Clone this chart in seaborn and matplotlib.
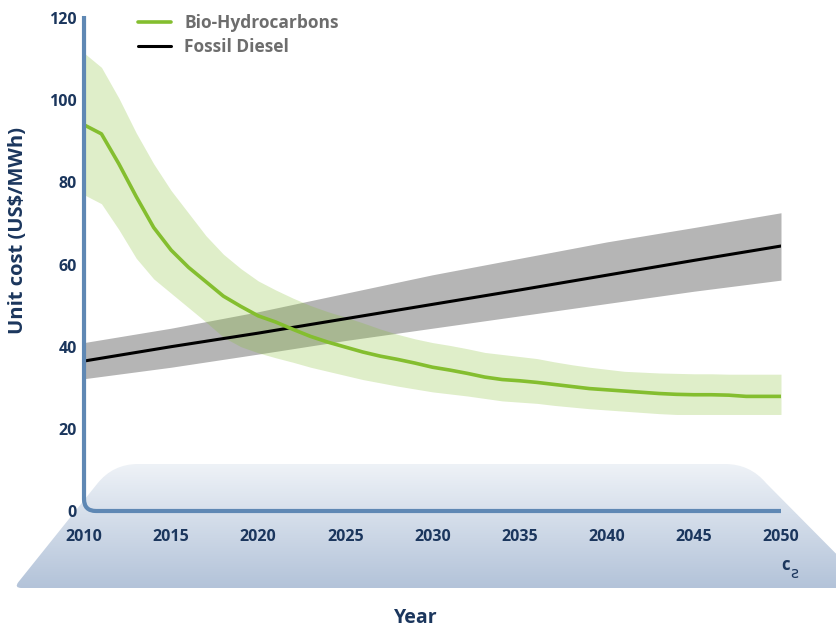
import numpy as np
import pandas as pd
import matplotlib
matplotlib.use("Agg")
import matplotlib.pyplot as plt
import seaborn as sns
from matplotlib.path import Path
from matplotlib.patches import PathPatch
from matplotlib.colors import LinearSegmentedColormap

# Data
bio_years = list(range(2010, 2051))
bio_mid = [94.0, 91.8, 84.5, 76.5, 69.0, 63.5, 59.3, 55.8, 52.3, 49.8,
           47.5, 46.0, 44.2, 42.5, 41.1, 39.9, 38.7, 37.7, 36.9, 36.0,
           35.0, 34.3, 33.5, 32.6, 32.0, 31.7, 31.3, 30.8, 30.3, 29.8,
           29.5, 29.2, 28.9, 28.6, 28.4, 28.3, 28.3, 28.2, 27.9, 27.9, 27.9]
bio_high = [111.5, 108.0, 100.5, 92.0, 84.5, 78.0, 72.5, 67.0, 62.5, 59.0,
            56.0, 53.8, 51.8, 50.0, 48.5, 47.2, 45.8, 44.3, 43.0, 41.9,
            41.0, 40.3, 39.5, 38.6, 38.1, 37.6, 37.1, 36.3, 35.6, 35.0,
            34.5, 34.0, 33.8, 33.6, 33.5, 33.4, 33.4, 33.3, 33.3, 33.3, 33.3]
bio_low = [77.0, 74.8, 68.5, 61.5, 56.5, 53.0, 49.5, 46.0, 42.3, 40.0,
           38.5, 37.3, 36.2, 35.0, 34.0, 33.0, 32.0, 31.2, 30.4, 29.7,
           29.0, 28.5, 28.0, 27.4, 26.8, 26.5, 26.2, 25.7, 25.3, 24.9,
           24.6, 24.3, 24.0, 23.7, 23.5, 23.5, 23.5, 23.5, 23.5, 23.5, 23.5]

fossil_years = [2010, 2015, 2020, 2025, 2030, 2035, 2040, 2045, 2050]
fossil_mid = [36.5, 40.0, 43.3, 46.8, 50.3, 53.8, 57.4, 61.0, 64.5]
fossil_high = [41.0, 44.5, 48.5, 53.0, 57.5, 61.5, 65.5, 69.0, 72.6]
fossil_low = [32.2, 35.0, 38.2, 41.5, 44.5, 47.5, 50.5, 53.5, 56.2]

x_ticks = [2010, 2015, 2020, 2025, 2030, 2035, 2040, 2045, 2050]
y_ticks = [0, 20, 40, 60, 80, 100, 120]

bio = pd.DataFrame({"year": bio_years, "cost": bio_mid})
fossil = pd.DataFrame({"year": fossil_years, "cost": fossil_mid})

sns.set_style("white")
plt.rcParams["font.family"] = ["Open Sans", "DejaVu Sans"]

navy = "#1b365d"
axis_blue = "#5f88b4"
green = "#84be2f"

fig = plt.figure(figsize=(8.36, 6.29), dpi=100)

# Decorative gradient platform behind the axes (pixel coords)
bg = fig.add_axes([0, 0, 1, 1], zorder=0)
bg.set_xlim(0, 836)
bg.set_ylim(629, 0)
bg.axis("off")
verts = [(21.6, 588), (870, 588), (766, 483), (750, 464), (725, 464),
         (138, 464), (113, 464), (97.4, 483.5), (18.6, 581.8), (13.6, 588),
         (21.6, 588), (21.6, 588)]
codes = [Path.MOVETO, Path.LINETO, Path.LINETO, Path.CURVE3, Path.CURVE3,
         Path.LINETO, Path.CURVE3, Path.CURVE3, Path.LINETO, Path.CURVE3,
         Path.CURVE3, Path.CLOSEPOLY]
clip = PathPatch(Path(verts, codes), transform=bg.transData,
                 facecolor="none", edgecolor="none")
bg.add_patch(clip)
cmap = LinearSegmentedColormap.from_list("plat", ["#eef2f7", "#b3c3d9"])
grad = np.linspace(0, 1, 256).reshape(-1, 1)
im = bg.imshow(grad, extent=(0, 870, 588, 464), aspect="auto", cmap=cmap)
im.set_clip_path(clip)
bg.text(786, 565, "c", color=navy, fontsize=12, fontweight="bold",
        ha="center", va="center")
bg.text(794, 573, "ƨ", color=navy, fontsize=11, ha="center", va="center",
        family="DejaVu Sans")

# Main chart
ax = fig.add_axes([0.1005, 0.1876, 0.8337, 0.787], zorder=1)
ax.patch.set_alpha(0)

ax.fill_between(fossil_years, fossil_low, fossil_high, color="#b5b5b5",
                linewidth=0, zorder=1)
ax.fill_between(bio_years, bio_low, bio_high, color=green, alpha=0.26,
                linewidth=0, zorder=2)
sns.lineplot(data=fossil, x="year", y="cost", color="black", linewidth=2.2,
             label="Fossil Diesel", ax=ax, zorder=3)
sns.lineplot(data=bio, x="year", y="cost", color=green, linewidth=2.6,
             label="Bio-Hydrocarbons", ax=ax, zorder=4)

ax.set_xlim(2010, 2050)
ax.set_ylim(0, 120.5)
ax.set_xticks(x_ticks)
ax.set_yticks(y_ticks)
ax.tick_params(direction="in", length=7, width=2, color=axis_blue,
               labelcolor=navy, labelsize=11.5)
ax.tick_params(axis="x", pad=13)
ax.tick_params(axis="y", pad=5)
for lab in ax.get_xticklabels() + ax.get_yticklabels():
    lab.set_fontweight("bold")

for s in ax.spines.values():
    s.set_visible(False)

# Axis line with rounded corner
rx, ry = 12 / 697, 12 / 495
axis_path = Path([(0, 1.0), (0, ry), (0, 0), (rx, 0), (1, 0)],
                 [Path.MOVETO, Path.LINETO, Path.CURVE3, Path.CURVE3, Path.LINETO])
ax.add_patch(PathPatch(axis_path, transform=ax.transAxes, fill=False,
                       edgecolor=axis_blue, linewidth=3, clip_on=False,
                       zorder=5, capstyle="butt"))

ax.set_xlabel("Year", fontsize=14, fontweight="bold", color=navy)
ax.xaxis.set_label_coords(0.476, -0.196)
ax.set_ylabel("Unit cost (US$/MWh)", fontsize=14.5, fontweight="bold", color=navy)
ax.yaxis.set_label_coords(-0.080, 0.566)

handles, labels = ax.get_legend_handles_labels()
order = [labels.index("Bio-Hydrocarbons"), labels.index("Fossil Diesel")]
ax.legend([handles[i] for i in order], [labels[i] for i in order],
          loc="upper left", bbox_to_anchor=(0.0775, 1.004), frameon=False,
          handlelength=1.9, handletextpad=0.75, labelspacing=0.35,
          borderpad=0, borderaxespad=0, labelcolor="#6d6d6d",
          prop={"weight": "bold", "size": 12.5})

plt.savefig("out.png", dpi=100)
